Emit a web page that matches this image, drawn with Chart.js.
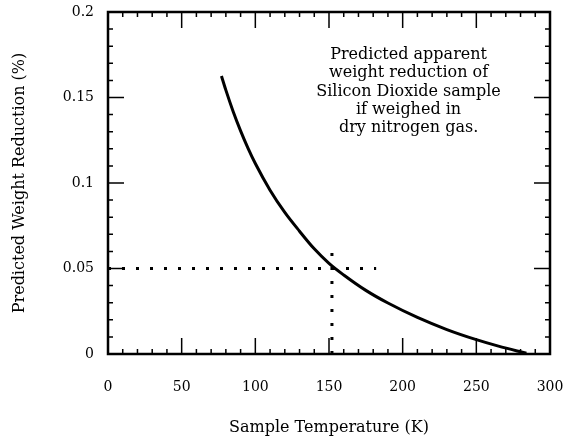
<!DOCTYPE html>
<html>
<head>
<meta charset="utf-8">
<script src="https://cdn.jsdelivr.net/npm/chart.js@4/dist/chart.umd.min.js"></script>
<style>
  body { margin: 0; background: #fff; }
  #wrap { width: 567px; height: 438px; }
</style>
</head>
<body>
<div id="wrap"><canvas id="line-chart" width="567" height="438"></canvas></div>
<script>
    // curve
    var temps = [77, 80, 85, 90, 95, 100, 110, 120, 130, 140, 150, 160, 175, 190, 210, 230, 250, 265, 284];
    var reduction = [0.1626, 0.1543, 0.1417, 0.1305, 0.1204, 0.1114, 0.0958, 0.0828, 0.0718, 0.0615, 0.0530, 0.0462, 0.0372, 0.0298, 0.0214, 0.0143, 0.0084, 0.0046, 0.0004];

    // dotted guide lines at 0.05 %
    var guideH_x = [0, 182];
    var guideH_y = [0.05, 0.05];
    var guideV_x = [152, 152];
    var guideV_y = [0, 0.062];

    var note = ["Predicted apparent", "weight reduction of", "Silicon Dioxide sample", "if weighed in", "dry nitrogen gas."];

    function pts(xs, ys) {
      return xs.map(function(x, i){ return {x: x, y: ys[i]}; });
    }

    var serif = "'DejaVu Serif', serif";

    var frame = {
      id: 'frame',
      afterDraw: function(chart) {
        var ctx = chart.ctx, a = chart.chartArea;
        var xs = chart.scales.x, ys = chart.scales.y;
        ctx.save();
        ctx.strokeStyle = "#000";
        ctx.lineWidth = 1.5;
        xs.ticks.forEach(function(t){
          var px = xs.getPixelForValue(t.value);
          var len = (Math.round(t.value) % 50 === 0) ? 16 : 5;
          ctx.beginPath();
          ctx.moveTo(px, a.bottom); ctx.lineTo(px, a.bottom - len);
          ctx.moveTo(px, a.top); ctx.lineTo(px, a.top + len);
          ctx.stroke();
        });
        ys.ticks.forEach(function(t){
          var py = ys.getPixelForValue(t.value);
          var len = (Math.round(t.value * 100) % 5 === 0) ? 16 : 5;
          ctx.beginPath();
          ctx.moveTo(a.left, py); ctx.lineTo(a.left + len, py);
          ctx.moveTo(a.right, py); ctx.lineTo(a.right - len, py);
          ctx.stroke();
        });
        ctx.lineWidth = 2.5;
        ctx.strokeRect(a.left, a.top, a.right - a.left, a.bottom - a.top);

        ctx.fillStyle = "#000";
        ctx.font = "16px " + serif;
        ctx.textAlign = "center";
        ctx.textBaseline = "middle";
        var cx = xs.getPixelForValue(204);
        note.forEach(function(line, i){
          ctx.fillText(line, cx, ys.getPixelForValue(0.1749 - i * 0.0107));
        });
        ctx.restore();
      }
    };

    new Chart(document.getElementById("line-chart"), {
      type: 'line',
      data: {
        datasets: [{
          label: "Weight reduction",
          data: pts(temps, reduction),
          borderColor: "#000",
          borderWidth: 3,
          pointRadius: 0,
          cubicInterpolationMode: 'monotone',
          fill: false
        }, {
          label: "guide h",
          data: pts(guideH_x, guideH_y),
          borderColor: "#000",
          borderWidth: 3,
          borderDash: [3, 11],
          pointRadius: 0
        }, {
          label: "guide v",
          data: pts(guideV_x, guideV_y),
          borderColor: "#000",
          borderWidth: 3,
          borderDash: [3, 11],
          pointRadius: 0
        }]
      },
      options: {
        responsive: false,
        animation: false,
        layout: { padding: { left: 0, right: 17, top: 12, bottom: 0 } },
        plugins: {
          legend: { display: false },
          tooltip: { enabled: false }
        },
        scales: {
          x: {
            type: 'linear',
            min: 0,
            max: 300,
            afterFit: function(s){ s.height = 84; s.paddingLeft = 0; s.paddingRight = 0; },
            grid: { display: false, drawTicks: false },
            border: { display: false },
            ticks: {
              stepSize: 10,
              autoSkip: false,
              maxRotation: 0,
              padding: 25,
              color: "#000",
              font: { family: serif, size: 14 },
              callback: function(v){ return (Math.round(v) % 50 === 0) ? String(Math.round(v)) : ''; }
            },
            title: {
              display: true,
              text: 'Sample Temperature (K)',
              color: "#000",
              font: { family: serif, size: 16 },
              padding: { top: 0, bottom: 1 }
            }
          },
          y: {
            min: 0,
            max: 0.2,
            afterFit: function(s){ s.width = 108; s.paddingTop = 0; s.paddingBottom = 0; },
            grid: { display: false, drawTicks: false },
            border: { display: false },
            ticks: {
              stepSize: 0.01,
              autoSkip: false,
              padding: 14,
              color: "#000",
              font: { family: serif, size: 14 },
              callback: function(v){
                var k = Math.round(v * 100);
                return (k % 5 === 0) ? String(k / 100) : '';
              }
            },
            title: {
              display: true,
              text: 'Predicted Weight Reduction (%)',
              color: "#000",
              font: { family: serif, size: 16 },
              padding: { top: 10, bottom: 0 }
            }
          }
        }
      },
      plugins: [frame]
    });
</script>
</body>
</html>
